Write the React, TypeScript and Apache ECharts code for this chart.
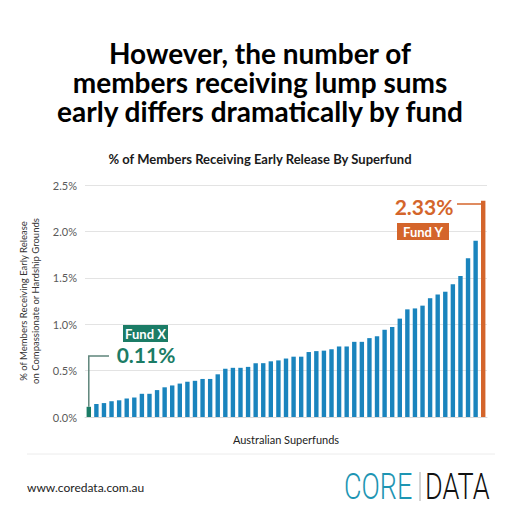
import React, { useEffect, useRef } from "react";
import * as echarts from "echarts";

const funds: string[] = Array.from({ length: 53 }, (_, i) => "Fund " + (i + 1));
const values: number[] = [
  0.11, 0.14, 0.15, 0.17, 0.18, 0.2, 0.21, 0.25, 0.25, 0.29,
  0.32, 0.34, 0.36, 0.38, 0.39, 0.41, 0.41, 0.46, 0.52, 0.53,
  0.53, 0.54, 0.58, 0.58, 0.6, 0.61, 0.63, 0.65, 0.65, 0.7,
  0.71, 0.715, 0.73, 0.76, 0.76, 0.81, 0.81, 0.85, 0.87, 0.94,
  0.97, 1.06, 1.16, 1.17, 1.2, 1.28, 1.32, 1.35, 1.43, 1.52,
  1.71, 1.9, 2.33,
];
const yTicks = { min: 0, max: 2.5, interval: 0.5 };
const titleLines: string[] = [
  "However, the number of",
  "members receiving lump sums",
  "early differs dramatically by fund",
];
const lowLabel = "Fund X";
const highLabel = "Fund Y";

const BLUE = "#1a84bd";
const GREEN = "#1b7c66";
const ORANGE = "#d4652b";
const FONT = "Lato, 'Open Sans', sans-serif";

export default function App() {
  const ref = useRef<HTMLDivElement>(null);
  useEffect(() => {
    document.body.style.margin = "0";
    const chart = echarts.init(ref.current!, null, { renderer: "svg" });
    const last = values.length - 1;
    const data = values.map((v, i) => ({
      value: v,
      itemStyle: { color: i === 0 ? GREEN : i === last ? ORANGE : BLUE },
    }));
    chart.setOption({
      animation: false,
      backgroundColor: "#ffffff",
      title: {
        text: "% of Members Receiving Early Release By Superfund",
        left: "center",
        top: 147,
        textStyle: { fontFamily: FONT, fontWeight: "bold", fontSize: 13, color: "#1a1a1a" },
      },
      grid: { left: 85, right: 33, top: 185, bottom: 103, containLabel: false },
      xAxis: {
        type: "category",
        data: funds,
        axisTick: { show: false },
        axisLabel: { show: false },
        axisLine: { show: true, lineStyle: { color: "#d9d9d9" } },
        name: "Australian Superfunds",
        nameLocation: "middle",
        nameGap: 17,
        nameTextStyle: { fontFamily: FONT, fontSize: 11, color: "#222" },
      },
      yAxis: {
        type: "value",
        min: yTicks.min,
        max: yTicks.max,
        interval: yTicks.interval,
        axisLabel: {
          formatter: (v: number) => v.toFixed(1) + "%",
          fontFamily: FONT,
          fontSize: 11,
          color: "#595959",
          margin: 8,
        },
        splitLine: { lineStyle: { color: "#e3e3e3" } },
        axisLine: { show: false },
        axisTick: { show: false },
        name: "% of Members Receiving Early Release\non Compassionate or Hardship Grounds",
        nameLocation: "middle",
        nameGap: 37,
        nameTextStyle: { fontFamily: FONT, fontSize: 9.5, color: "#333", lineHeight: 12 },
      },
      series: [
        {
          type: "bar",
          data,
          barWidth: "58%",
        },
      ],
    });

    const p0 = chart.convertToPixel({ gridIndex: 0 }, [0, values[0]]) as number[];
    const pN = chart.convertToPixel({ gridIndex: 0 }, [last, values[last]]) as number[];

    chart.setOption({
      graphic: [
        {
          type: "text",
          x: 260,
          y: 82,
          style: {
            text: titleLines.join("\n"),
            fill: "#000",
            font: "bold 28px " + FONT,
            lineHeight: 29,
            textAlign: "center",
            textVerticalAlign: "middle",
          },
        },
        // Fund X annotation
        {
          type: "polyline",
          shape: { points: [[p0[0], p0[1]], [p0[0], 356], [109, 356]] },
          style: { stroke: "#5f857b", lineWidth: 1.5, fill: "none" },
        },
        { type: "rect", shape: { x: 123, y: 325, width: 45, height: 17 }, style: { fill: GREEN } },
        {
          type: "text",
          x: 145.5,
          y: 333.5,
          style: {
            text: lowLabel,
            fill: "#fff",
            font: "bold 13px " + FONT,
            textAlign: "center",
            textVerticalAlign: "middle",
          },
        },
        {
          type: "text",
          x: 146,
          y: 354,
          style: {
            text: values[0].toFixed(2) + "%",
            fill: GREEN,
            font: "bold 21px " + FONT,
            textAlign: "center",
            textVerticalAlign: "middle",
          },
        },
        // Fund Y annotation
        {
          type: "line",
          shape: { x1: 457, y1: 204, x2: pN[0], y2: 204 },
          style: { stroke: ORANGE, lineWidth: 1.5 },
        },
        {
          type: "text",
          x: 424,
          y: 206,
          style: {
            text: values[last].toFixed(2) + "%",
            fill: ORANGE,
            font: "bold 21px " + FONT,
            textAlign: "center",
            textVerticalAlign: "middle",
          },
        },
        { type: "rect", shape: { x: 397, y: 223, width: 52, height: 17 }, style: { fill: ORANGE } },
        {
          type: "text",
          x: 423,
          y: 231.5,
          style: {
            text: highLabel,
            fill: "#fff",
            font: "bold 13px " + FONT,
            textAlign: "center",
            textVerticalAlign: "middle",
          },
        },
        // footer
        {
          type: "line",
          shape: { x1: 27, y1: 454, x2: 495, y2: 454 },
          style: { stroke: "#ececec", lineWidth: 1 },
        },
        {
          type: "text",
          x: 27,
          y: 487,
          style: {
            text: "www.coredata.com.au",
            fill: "#222",
            font: "12px " + FONT,
            textAlign: "left",
            textVerticalAlign: "middle",
          },
        },
        {
          type: "text",
          x: 344,
          y: 487,
          scaleX: 0.75,
          style: {
            text: "CORE",
            fill: "#1d95b3",
            font: "300 36px Roboto, sans-serif",
            textAlign: "left",
            textVerticalAlign: "middle",
          },
        },
        {
          type: "line",
          shape: { x1: 420, y1: 472, x2: 420, y2: 501 },
          style: { stroke: "#aaaaaa", lineWidth: 1 },
        },
        {
          type: "text",
          x: 425,
          y: 487,
          scaleX: 0.75,
          style: {
            text: "DATA",
            fill: "#111",
            font: "300 36px Roboto, sans-serif",
            textAlign: "left",
            textVerticalAlign: "middle",
          },
        },
      ],
    });
    return () => chart.dispose();
  }, []);
  return <div ref={ref} style={{ width: 520, height: 520 }} />;
}
